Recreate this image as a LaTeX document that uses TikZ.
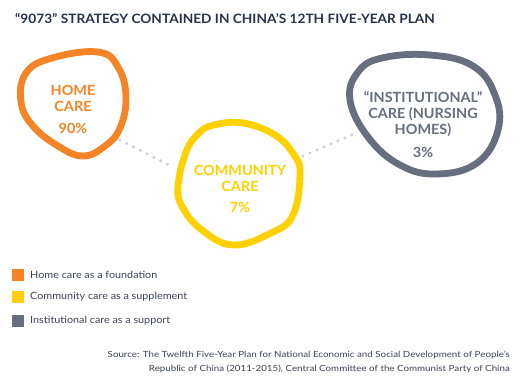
\documentclass[tikz,border=0pt]{standalone}
\usepackage{fontspec}
\setmainfont{Lato}
\newfontfamily\titlefont{Lato}[FakeStretch=1.06]
\newfontfamily\legfont{Lato}[FakeStretch=1.08]
\newfontfamily\srcfont{Lato}[FakeStretch=1.15]
\newfontfamily\lblfont{Lato}[FakeStretch=1.03]
\definecolor{homeor}{HTML}{F58426}
\definecolor{commyel}{HTML}{FFD100}
\definecolor{instgr}{HTML}{676E7E}
\definecolor{titlecol}{HTML}{27344A}
\definecolor{legcol}{HTML}{3B4459}
\definecolor{dotcol}{HTML}{CFD0D8}
\tikzset{
  blob/.style={line width=6.8pt, line join=round},
  lbl/.style={font=\lblfont\fontsize{14}{16}\selectfont\bfseries, align=center, inner sep=0pt},
  dotline/.style={dotcol, line width=3.4pt, line cap=round, dash pattern=on 0pt off 7.6pt},
  legsq/.style={minimum size=12pt, inner sep=0pt, draw=none},
  legtxt/.style={font=\legfont\fontsize{10}{11}\selectfont, text=legcol, anchor=west, inner sep=0pt},
}
\begin{document}
\begin{tikzpicture}[x=1pt,y=-1pt]
\useasboundingbox[fill=white] (0,0) rectangle (521,388);
% title
\node[anchor=base west, inner sep=0pt, text=titlecol, font=\titlefont\fontsize{12.9}{14}\selectfont\bfseries] (title) at (15,23) {“9073” STRATEGY CONTAINED IN CHINA’S 12TH FIVE-YEAR PLAN};
% connectors
\coordinate (h1) at (120,140);
\coordinate (c1) at (173,167);
\coordinate (c2) at (303,156);
\coordinate (i1) at (354,134);
\draw[dotline] (h1) -- (c1);
\draw[dotline] (c2) -- (i1);
% home blob
\draw[blob, homeor] plot[smooth cycle, tension=0.7] coordinates {
 (52,58) (98,52) (118,67) (126,97) (120,128) (105,146) (83,156) (58,146) (33,126) (21,102) (26,73)};
% community blob
\draw[blob, commyel] plot[smooth cycle, tension=0.7] coordinates {
 (214,125) (243,123) (275,135) (294,155) (300,174) (293,215) (271,233) (233,245) (202,230) (183,208) (178,187) (186,152) (199,133)};
% institutional blob
\draw[blob, instgr] plot[smooth cycle, tension=0.7] coordinates {
 (382,58) (430,55) (473,66) (495,95) (498,130) (477,163) (437,174) (400,165) (368,137) (350,100) (358,72)};
% labels
\node[lbl, text=homeor] (homet) at (73,98) {HOME\\CARE};
\node[lbl, text=homeor] (homep) at (73,128) {90\%};
\node[lbl, text=commyel] (commt) at (240,178) {COMMUNITY\\CARE};
\node[lbl, text=commyel] (commp) at (240,207) {7\%};
\node[lbl, text=instgr] (instt) at (423,114) {“INSTITUTIONAL”\\CARE (NURSING\\HOMES)};
\node[lbl, text=instgr] (instp) at (423,152) {3\%};
% legend
\node[legsq, fill=homeor] (sq1) at (18,274.5) {};
\node[legsq, fill=commyel] (sq2) at (18,296.5) {};
\node[legsq, fill=instgr] (sq3) at (18,321) {};
\node[legtxt] (lt1) at (30,274.5) {Home care as a foundation};
\node[legtxt] (lt2) at (30,296.5) {Community care as a supplement};
\node[legtxt] (lt3) at (30,321) {Institutional care as a support};
% source
\node[anchor=east, inner sep=0pt, align=right, text=legcol, font=\srcfont\fontsize{8.5}{14}\selectfont] (src) at (510,362) {Source: The Twelfth Five-Year Plan for National Economic and Social Development of People’s\\Republic of China (2011-2015), Central Committee of the Communist Party of China};
\end{tikzpicture}
\end{document}
